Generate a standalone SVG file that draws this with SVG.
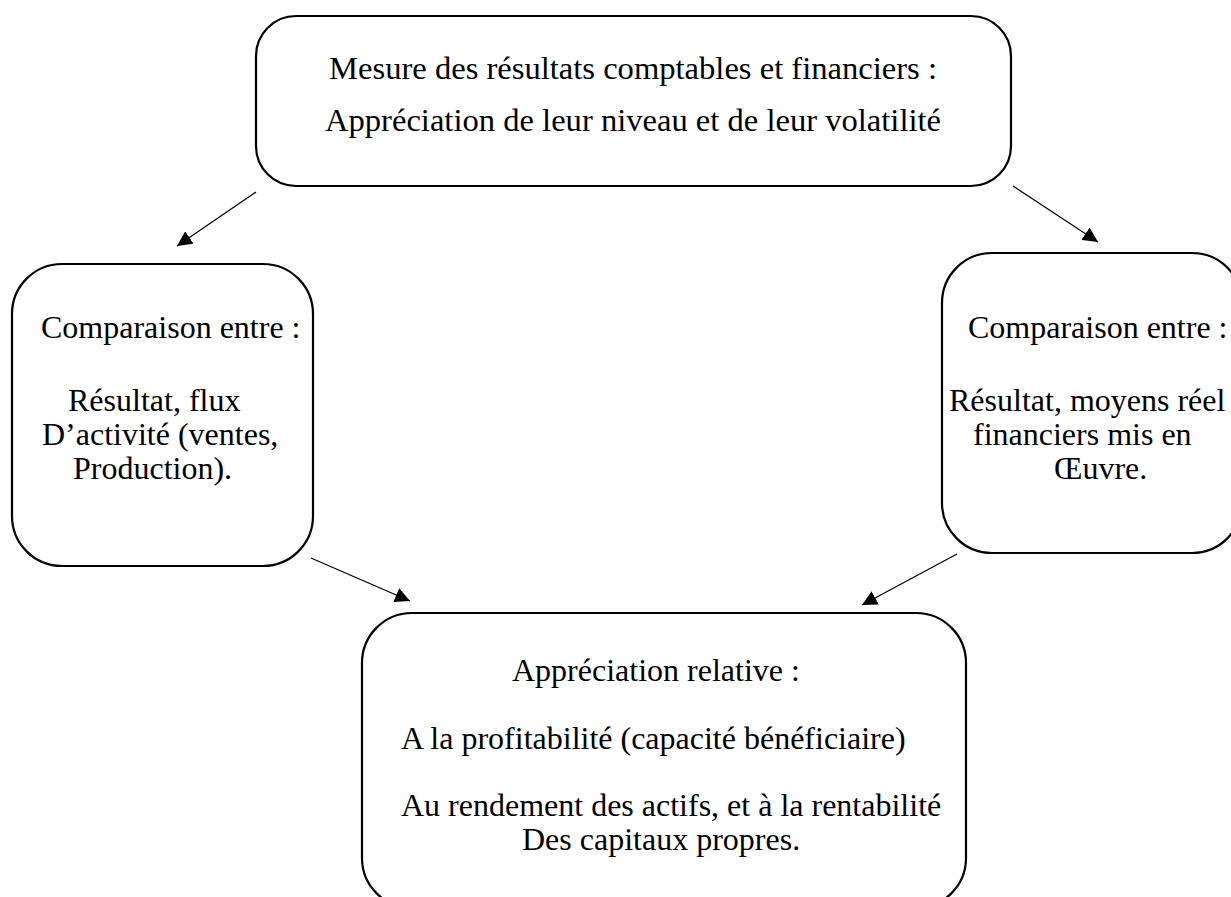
<svg xmlns="http://www.w3.org/2000/svg" width="1231" height="897" viewBox="0 0 1231 897">
  <style>
    .box { fill: #ffffff; stroke: #000000; stroke-width: 2.2; }
    .lbl { font-family: "Liberation Serif", "Times New Roman", serif; font-size: 32px; fill: #000000; }
    .big { font-size: 32.6px; }
    .mid { text-anchor: middle; }
    .conn { stroke: #000000; stroke-width: 1.3; fill: none; marker-end: url(#head); }
  </style>
  <defs>
    <marker id="head" markerUnits="userSpaceOnUse" markerWidth="15" markerHeight="15" viewBox="0 0 15 15" refX="15" refY="7.5" orient="auto">
      <path d="M0,0 L15,7.5 L0,15 z" fill="#000000"/>
    </marker>
  </defs>

  <rect width="1231" height="897" fill="#ffffff"/>

  <!-- Top: measurement of results -->
  <g id="mesure">
    <rect class="box" x="256" y="16" width="755" height="170" rx="40" ry="40"/>
    <text class="lbl big mid" x="633" y="79">Mesure des résultats comptables et financiers :</text>
    <text class="lbl big mid" x="633" y="131">Appréciation de leur niveau et de leur volatilité</text>
  </g>

  <!-- Left: comparison with activity flows -->
  <g id="comparaison-activite">
    <rect class="box" x="12" y="264" width="301" height="302" rx="50" ry="50"/>
    <text class="lbl" x="41" y="338">Comparaison entre :</text>
    <text class="lbl" x="68" y="411">Résultat, flux</text>
    <text class="lbl" x="42" y="445">D’activité (ventes,</text>
    <text class="lbl" x="73" y="479">Production).</text>
  </g>

  <!-- Right: comparison with resources employed -->
  <g id="comparaison-moyens">
    <rect class="box" x="942" y="253" width="300" height="300" rx="50" ry="50"/>
    <text class="lbl" x="968" y="338">Comparaison entre :</text>
    <text class="lbl" x="949" y="411">Résultat, moyens réel</text>
    <text class="lbl" x="973" y="445">financiers mis en</text>
    <text class="lbl" x="1054" y="479">Œuvre.</text>
  </g>

  <!-- Bottom: relative appraisal -->
  <g id="appreciation-relative">
    <rect class="box" x="362" y="613" width="604" height="295" rx="50" ry="50"/>
    <text class="lbl" x="512" y="681">Appréciation relative :</text>
    <text class="lbl" x="401" y="749">A la profitabilité (capacité bénéficiaire)</text>
    <text class="lbl" x="401" y="816">Au rendement des actifs, et à la rentabilité</text>
    <text class="lbl" x="522" y="850">Des capitaux propres.</text>
  </g>

  <!-- Connectors -->
  <g id="connectors">
    <line class="conn" x1="256" y1="192" x2="177" y2="246"/>
    <line class="conn" x1="1013" y1="186" x2="1098" y2="242"/>
    <line class="conn" x1="311" y1="558" x2="410" y2="601"/>
    <line class="conn" x1="957" y1="554" x2="862" y2="605"/>
  </g>
</svg>
